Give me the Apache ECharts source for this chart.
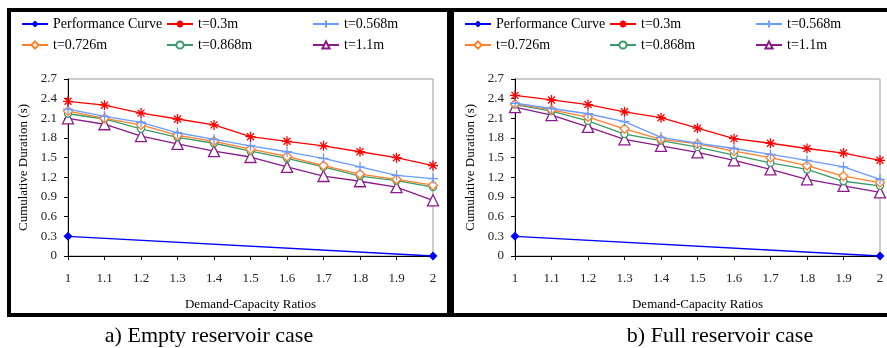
<!DOCTYPE html>
<html lang="en">
<head>
    <meta charset="UTF-8">
    <title>Cumulative Duration</title>
    <script src="https://cdn.jsdelivr.net/npm/echarts@6/dist/echarts.min.js"></script>
    <style>
        html, body{
            margin: 0;
            padding: 0;
            background: #fff;
        }
        #box{
            width: 887px;
            height: 348px;
        }
    </style>
</head>
<body>
<div id="box"></div>
<script>
    // x categories (demand-capacity ratio)
    var ratios = ['1', '1.1', '1.2', '1.3', '1.4', '1.5', '1.6', '1.7', '1.8', '1.9', '2'];
    var seriesNames = ['Performance Curve', 't=0.3m', 't=0.568m', 't=0.726m', 't=0.868m', 't=1.1m'];

    // performance curve: only the two end points
    var perfCurve = [0.3, null, null, null, null, null, null, null, null, null, 0];

    // a) empty reservoir
    var emptyT030 = [2.36, 2.30, 2.18, 2.09, 2.00, 1.82, 1.75, 1.68, 1.59, 1.50, 1.38];
    var emptyT0568 = [2.24, 2.13, 2.04, 1.88, 1.78, 1.68, 1.59, 1.49, 1.36, 1.23, 1.18];
    var emptyT0726 = [2.21, 2.10, 2.00, 1.84, 1.75, 1.63, 1.52, 1.38, 1.25, 1.17, 1.08];
    var emptyT0868 = [2.17, 2.09, 1.94, 1.81, 1.72, 1.60, 1.49, 1.36, 1.22, 1.15, 1.05];
    var emptyT11 = [2.10, 2.01, 1.83, 1.71, 1.60, 1.51, 1.36, 1.22, 1.14, 1.05, 0.85];

    // b) full reservoir
    var fullT030 = [2.45, 2.38, 2.31, 2.20, 2.11, 1.95, 1.79, 1.72, 1.64, 1.57, 1.46];
    var fullT0568 = [2.33, 2.25, 2.17, 2.05, 1.81, 1.72, 1.64, 1.55, 1.46, 1.36, 1.17];
    var fullT0726 = [2.32, 2.23, 2.12, 1.94, 1.78, 1.71, 1.60, 1.50, 1.38, 1.22, 1.12];
    var fullT0868 = [2.31, 2.21, 2.06, 1.86, 1.76, 1.66, 1.54, 1.42, 1.32, 1.14, 1.07];
    var fullT11 = [2.27, 2.15, 1.97, 1.78, 1.68, 1.58, 1.46, 1.32, 1.17, 1.07, 0.97];

    var captions = ['a) Empty reservoir case', 'b) Full reservoir case'];

    var serif = '"Liberation Serif", "DejaVu Serif", serif';
    var colors = ['#0000FF', '#FF0000', '#6A9BFF', '#FF7F2A', '#3A9A6A', '#8B1A8B'];

    // marker look for each series
    var markers = [
        {symbol: 'diamond', size: 9, fill: '#0000FF'},
        {symbol: 'path://M5,0L5,10M0,5L10,5M1.5,1.5L8.5,8.5M8.5,1.5L1.5,8.5', size: 10, fill: '#FF0000'},
        {symbol: 'path://M5,0L5,10M0,5L10,5', size: 10, fill: '#6A9BFF'},
        {symbol: 'diamond', size: 9, fill: '#fff'},
        {symbol: 'circle', size: 7, fill: '#fff'},
        {symbol: 'triangle', size: 11, fill: '#fff'}
    ];

    var panels = [
        {left: 68, data: [perfCurve, emptyT030, emptyT0568, emptyT0726, emptyT0868, emptyT11], off: 0},
        {left: 515, data: [perfCurve, fullT030, fullT0568, fullT0726, fullT0868, fullT11], off: 443}
    ];

    var grids = [], xAxes = [], yAxes = [], series = [], legends = [];
    var legendCols = [21, 166, 312];
    var legendRows = [17, 38];

    panels.forEach(function(p, k){
        grids.push({
            left: p.left, top: 79, width: 365, height: 177,
            show: true, borderColor: '#9a9a9a', borderWidth: 1, backgroundColor: 'transparent'
        });
        xAxes.push({
            type: 'category', gridIndex: k, data: ratios, boundaryGap: false,
            name: 'Demand-Capacity Ratios', nameLocation: 'middle', nameGap: 42,
            nameTextStyle: {fontFamily: serif, fontSize: 13, color: '#000'},
            axisLine: {lineStyle: {color: '#000', width: 1}},
            axisTick: {show: true, length: 4, lineStyle: {color: '#000'}},
            axisLabel: {fontFamily: serif, fontSize: 13, color: '#222', margin: 16, interval: 0}
        });
        yAxes.push({
            type: 'value', gridIndex: k, min: 0, max: 2.7, interval: 0.3,
            name: 'Cumulative Duration (s)', nameLocation: 'middle', nameGap: 38, nameRotate: 90,
            nameTextStyle: {fontFamily: serif, fontSize: 13, color: '#000'},
            axisLine: {show: true, lineStyle: {color: '#000', width: 1}},
            axisTick: {show: true, length: 4, lineStyle: {color: '#000'}},
            axisLabel: {fontFamily: serif, fontSize: 13, color: '#222', margin: 11},
            splitLine: {show: false}
        });
        p.data.forEach(function(vals, i){
            var m = markers[i];
            series.push({
                name: seriesNames[i], type: 'line', xAxisIndex: k, yAxisIndex: k,
                data: vals, connectNulls: true,
                symbol: m.symbol, symbolSize: m.size, showSymbol: true,
                color: colors[i],
                lineStyle: {color: colors[i], width: 1.3},
                itemStyle: {color: m.fill, borderColor: colors[i], borderWidth: i === 0 ? 0 : 1.3},
                z: 10 - i,
                animation: false
            });
        });
        seriesNames.forEach(function(nm, i){
            legends.push({
                data: [nm],
                left: legendCols[i % 3] + p.off,
                top: legendRows[Math.floor(i / 3)],
                padding: 0,
                itemWidth: 26, itemHeight: 9, itemGap: 0,
                textStyle: {fontFamily: serif, fontSize: 14, color: '#000'},
                selectedMode: false
            });
        });
    });

    var option = {
        backgroundColor: '#fff',
        animation: false,
        title: [
            {text: captions[0], left: 204, top: 320, textAlign: 'center',
                textStyle: {fontFamily: serif, fontSize: 22, fontWeight: 'normal', color: '#000'}},
            {text: captions[1], left: 715, top: 320, textAlign: 'center',
                textStyle: {fontFamily: serif, fontSize: 22, fontWeight: 'normal', color: '#000'}}
        ],
        legend: legends,
        grid: grids,
        xAxis: xAxes,
        yAxis: yAxes,
        series: series,
        graphic: [
            {type: 'rect', shape: {x: 9, y: 10, width: 440, height: 305},
                style: {fill: 'none', stroke: '#000', lineWidth: 4}, z: 100},
            {type: 'rect', shape: {x: 452, y: 10, width: 440, height: 305},
                style: {fill: 'none', stroke: '#000', lineWidth: 4}, z: 100}
        ]
    };

    var myChart = echarts.init(document.getElementById('box'));
    myChart.setOption(option);
</script>
</body>
</html>
